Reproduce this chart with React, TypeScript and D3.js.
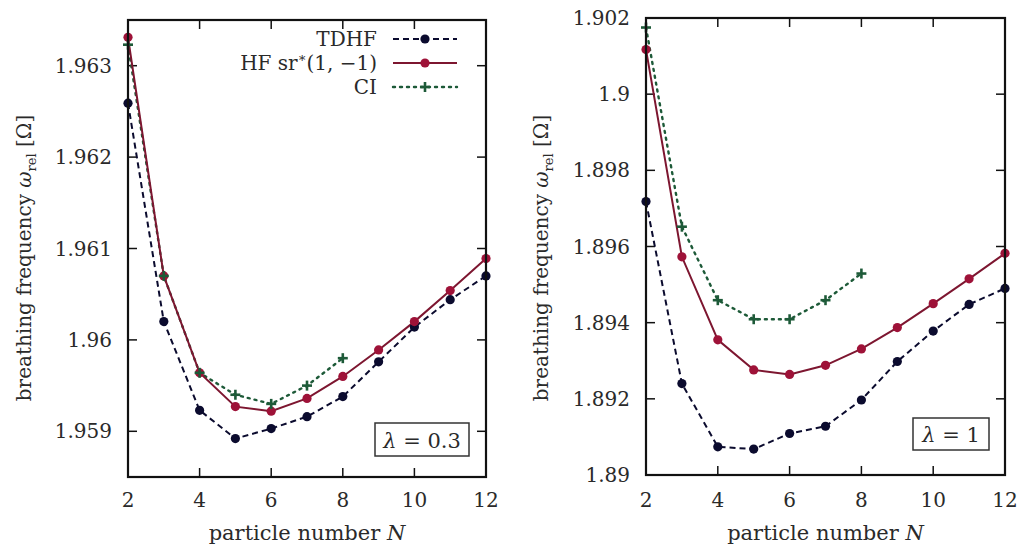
import React from "react";
import * as d3 from "d3";

const N = [2, 3, 4, 5, 6, 7, 8, 9, 10, 11, 12];
const N_CI = [2, 3, 4, 5, 6, 7, 8];

const tdhfL = [1.96259, 1.9602, 1.95923, 1.95892, 1.95903, 1.95916, 1.95938, 1.95976, 1.96014, 1.96044, 1.9607];
const hfL = [1.96331, 1.9607, 1.95964, 1.95927, 1.95922, 1.95936, 1.9596, 1.95989, 1.9602, 1.96054, 1.96089];
const ciL = [1.96323, 1.9607, 1.95964, 1.9594, 1.9593, 1.9595, 1.9598];

const tdhfR = [1.89718, 1.8924, 1.89074, 1.89068, 1.89109, 1.89128, 1.89197, 1.89298, 1.89378, 1.89448, 1.8949];
const hfR = [1.90117, 1.89573, 1.89355, 1.89276, 1.89264, 1.89288, 1.89331, 1.89387, 1.8945, 1.89515, 1.89582];
const ciR = [1.90175, 1.89652, 1.89459, 1.89409, 1.89409, 1.89459, 1.89529];

const xTicks = [2, 4, 6, 8, 10, 12];
const yTicksL = [1.959, 1.96, 1.961, 1.962, 1.963];
const yTicksR = [1.89, 1.892, 1.894, 1.896, 1.898, 1.9, 1.902];

const legendLabels = ["TDHF", "HF sr*(1, −1)", "CI"];

const FONT = "DejaVu Serif, Liberation Serif, serif";
const TS = { fontFamily: FONT } as React.CSSProperties;
const C_TDHF = "#0b0b2e";
const C_HF_LINE = "#7d1630";
const C_HF_PT = "#9e1238";
const C_CI = "#1d5a38";
const TXT = "#2a2a2a";

type PanelProps = {
  x0: number; x1: number; y0: number; y1: number;
  yDomain: [number, number];
  yTicks: number[];
  tdhf: number[]; hf: number[]; ci: number[];
  lambda: string;
  box: [number, number, number, number];
  yLabelX: number;
  legend?: boolean;
};

function Plus({ x, y }: { x: number; y: number }) {
  const s = 5;
  return (
    <g stroke={C_CI} strokeWidth={2.6}>
      <line x1={x - s} x2={x + s} y1={y} y2={y} />
      <line x1={x} x2={x} y1={y - s} y2={y + s} />
    </g>
  );
}

function Panel(p: PanelProps) {
  const x = d3.scaleLinear().domain([2, 12]).range([p.x0, p.x1]);
  const y = d3.scaleLinear().domain(p.yDomain).range([p.y1, p.y0]);
  const line = d3.line<[number, number]>().x((d) => x(d[0])).y((d) => y(d[1]));
  const pts = (xs: number[], vs: number[]) => vs.map((v, i) => [xs[i], v] as [number, number]);
  const tk = 9;
  const fmt = (v: number) => String(+v.toFixed(4));
  const cx = (p.x0 + p.x1) / 2;
  const cy = 258;
  return (
    <g>
      {xTicks.map((t) => (
        <g key={"xt" + t}>
          <line x1={x(t)} x2={x(t)} y1={p.y1} y2={p.y1 - tk} stroke="#111" strokeWidth={1.5} />
          <line x1={x(t)} x2={x(t)} y1={p.y0} y2={p.y0 + tk} stroke="#111" strokeWidth={1.5} />
          <text style={TS} x={x(t)} y={507} textAnchor="middle" fontSize={20} fill={TXT}>{t}</text>
        </g>
      ))}
      {p.yTicks.map((t) => (
        <g key={"yt" + t}>
          <line x1={p.x0} x2={p.x0 + tk} y1={y(t)} y2={y(t)} stroke="#111" strokeWidth={1.5} />
          <line x1={p.x1} x2={p.x1 - tk} y1={y(t)} y2={y(t)} stroke="#111" strokeWidth={1.5} />
          <text style={TS} x={p.x0 - 16} y={y(t) + 7} textAnchor="end" fontSize={20} fill={TXT}>{fmt(t)}</text>
        </g>
      ))}
      <path d={line(pts(N, p.tdhf)) || ""} fill="none" stroke={C_TDHF} strokeWidth={2} strokeDasharray="6,4" />
      <path d={line(pts(N_CI, p.ci)) || ""} fill="none" stroke={C_CI} strokeWidth={2.4} strokeDasharray="2,5" strokeLinecap="round" />
      <path d={line(pts(N, p.hf)) || ""} fill="none" stroke={C_HF_LINE} strokeWidth={2} />
      {p.tdhf.map((v, i) => <circle key={"a" + i} cx={x(N[i])} cy={y(v)} r={4.6} fill={C_TDHF} />)}
      {p.hf.map((v, i) => <circle key={"b" + i} cx={x(N[i])} cy={y(v)} r={4.6} fill={C_HF_PT} />)}
      {p.ci.map((v, i) => <Plus key={"c" + i} x={x(N_CI[i])} y={y(v)} />)}
      <rect x={p.x0} y={p.y0} width={p.x1 - p.x0} height={p.y1 - p.y0} fill="none" stroke="#111" strokeWidth={2.2} />
      <rect x={p.box[0]} y={p.box[1]} width={p.box[2] - p.box[0]} height={p.box[3] - p.box[1]} fill="white" stroke="#333" strokeWidth={1.5} />
      <text style={TS} x={(p.box[0] + p.box[2]) / 2} y={(p.box[1] + p.box[3]) / 2 + 8} textAnchor="middle" fontSize={21} fill={TXT}>
        <tspan fontStyle="italic">λ</tspan>
        <tspan> = {p.lambda}</tspan>
      </text>
      <text style={TS} x={cx} y={540} textAnchor="middle" fontSize={21} fill={TXT}>
        particle number <tspan fontStyle="italic">N</tspan>
      </text>
      <text style={TS} transform={`translate(${p.yLabelX},${cy}) rotate(-90)`} textAnchor="middle" fontSize={20} fill={TXT}>
        breathing frequency <tspan fontStyle="italic">ω</tspan>
        <tspan fontSize={13} dy={5}>rel</tspan>
        <tspan dy={-5}> [Ω]</tspan>
      </text>
      {p.legend && (
        <g>
          {legendLabels.map((lab, i) => {
            const ly = 39 + i * 24;
            return (
              <g key={lab}>
                <text style={TS} x={377} y={ly + 7} textAnchor="end" fontSize={20} fill={TXT}>
                  {i === 1 ? (
                    <>
                      HF sr<tspan fontSize={13} dy={-8}>∗</tspan>
                      <tspan dy={8}>(1, −1)</tspan>
                    </>
                  ) : lab}
                </text>
                {i === 0 && (
                  <>
                    <line x1={393} x2={457} y1={ly} y2={ly} stroke={C_TDHF} strokeWidth={2} strokeDasharray="6,4" />
                    <circle cx={425} cy={ly} r={4.6} fill={C_TDHF} />
                  </>
                )}
                {i === 1 && (
                  <>
                    <line x1={393} x2={457} y1={ly} y2={ly} stroke={C_HF_LINE} strokeWidth={2} />
                    <circle cx={425} cy={ly} r={4.6} fill={C_HF_PT} />
                  </>
                )}
                {i === 2 && (
                  <>
                    <line x1={393} x2={457} y1={ly} y2={ly} stroke={C_CI} strokeWidth={2.4} strokeDasharray="2,5" strokeLinecap="round" />
                    <Plus x={425} y={ly} />
                  </>
                )}
              </g>
            );
          })}
        </g>
      )}
    </g>
  );
}

export default function App() {
  return (
    <svg width={1021} height={548} style={{ position: "absolute", left: 0, top: 0, background: "white" }}>
      <rect width={1021} height={548} fill="white" />
      <Panel x0={128} x1={486} y0={20} y1={477} yDomain={[1.9585, 1.9635]} yTicks={yTicksL}
        tdhf={tdhfL} hf={hfL} ci={ciL} lambda="0.3" box={[375, 423, 469, 456]} yLabelX={31} legend />
      <Panel x0={646} x1={1005} y0={18} y1={475} yDomain={[1.89, 1.902]} yTicks={yTicksR}
        tdhf={tdhfR} hf={hfR} ci={ciR} lambda="1" box={[913, 418, 989, 450]} yLabelX={548} />
    </svg>
  );
}
